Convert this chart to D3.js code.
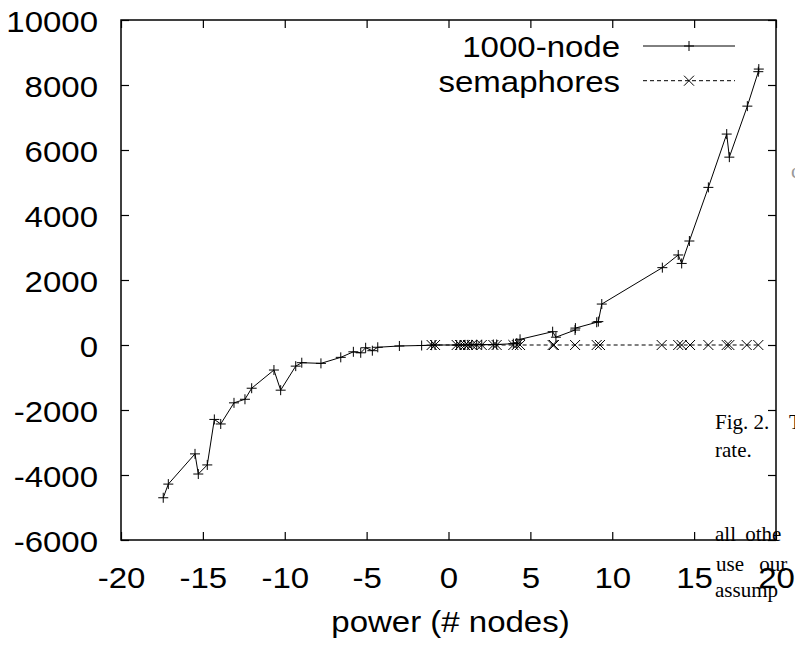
<!DOCTYPE html>
<html>
<head>
<meta charset="utf-8">
<script src="https://cdn.jsdelivr.net/npm/d3@7"></script>
<style>
  body { margin: 0; background: #fff; }
  svg { display: block; }
</style>
</head>
<body>
<svg id="chart"></svg>
<script>
// data
const nodeX = [-17.42, -17.11, -15.48, -15.28, -14.73, -14.30, -13.91, -13.10, -12.43, -12.02,
  -10.66, -10.25, -9.33, -8.96, -7.79, -6.58, -5.81, -5.36, -5.06, -4.65, -4.32, -3.0, -1.64,
  -1.03, -0.82, 0.50, 0.70, 1.01, 1.19, 1.42, 1.72, 2.03, 2.74, 2.94, 3.96, 4.17, 4.37,
  6.36, 6.56, 7.73, 7.75, 9.05, 9.15, 9.36, 13.06, 14.03, 14.24, 14.71, 15.87, 16.99, 17.15,
  18.25, 18.92, 18.95];
const nodeY = [-4700, -4280, -3350, -3970, -3690, -2290, -2430, -1780, -1670, -1330,
  -770, -1390, -650, -545, -565, -380, -210, -240, -85, -175, -70, -30, -15,
  -5, 0, 0, 0, 5, 5, 5, 10, 10, 15, 15, 40, 60, 175,
  410, 240, 460, 520, 700, 720, 1260, 2380, 2770, 2510, 3200, 4850, 6490, 5780,
  7350, 8410, 8490];

const semX = [-1.03, -0.82, 0.50, 0.70, 1.01, 1.19, 1.42, 1.72, 2.03, 2.74, 2.94, 3.96, 4.17, 4.37,
  6.36, 6.44, 7.73, 9.05, 9.25, 13.02, 14.03, 14.24, 14.75, 15.87, 16.99, 17.15, 18.21, 18.92];
const semY = semX.map(() => 0);

const xTicks = [-20, -15, -10, -5, 0, 5, 10, 15, 20];
const yTicks = [-6000, -4000, -2000, 0, 2000, 4000, 6000, 8000, 10000];

const svgWidth = 795;
const svgHeight = 648;
const margin = { top: 20, right: 19, bottom: 108, left: 121 };
const stretch = 1.1; // the original figure is a bit wider than tall
const fontSize = 30;
const font = "'Liberation Sans', Arial, Helvetica, sans-serif";

const svg = d3.select("#chart")
  .attr("width", svgWidth)
  .attr("height", svgHeight)
  .style("font-family", font);

svg.append("rect").attr("width", svgWidth).attr("height", svgHeight).attr("fill", "#fff");

const x = d3.scaleLinear().domain([-20, 20]).range([margin.left, svgWidth - margin.right]);
const y = d3.scaleLinear().domain([-6000, 10000]).range([svgHeight - margin.bottom, margin.top]);

// axes: inward ticks on all four sides
const bottom = svg.append("g")
  .attr("transform", "translate(0," + y(-6000) + ")")
  .call(d3.axisBottom(x).tickValues(xTicks).tickSize(-8).tickSizeOuter(0).tickFormat(d => String(d)));
bottom.selectAll("text")
  .attr("y", 0).attr("dy", 0)
  .attr("font-size", fontSize)
  .attr("fill", "#000")
  .attr("transform", "translate(0,48) scale(" + stretch + ",1)");

const left = svg.append("g")
  .attr("transform", "translate(" + x(-20) + ",0)")
  .call(d3.axisLeft(y).tickValues(yTicks).tickSize(-8).tickSizeOuter(0).tickFormat(d => String(d)));
left.selectAll("text")
  .attr("x", 0).attr("dy", 0)
  .attr("font-size", fontSize)
  .attr("fill", "#000")
  .attr("transform", "translate(-23,11) scale(" + stretch + ",1)");

svg.append("g")
  .attr("transform", "translate(0," + y(10000) + ")")
  .call(d3.axisTop(x).tickValues(xTicks).tickSize(-8).tickSizeOuter(0).tickFormat(""));
svg.append("g")
  .attr("transform", "translate(" + x(20) + ",0)")
  .call(d3.axisRight(y).tickValues(yTicks).tickSize(-8).tickSizeOuter(0).tickFormat(""));

svg.selectAll(".domain").remove();
svg.selectAll(".tick line").attr("stroke", "#000").attr("stroke-width", 1.2);

svg.append("rect")
  .attr("x", x(-20)).attr("y", y(10000))
  .attr("width", x(20) - x(-20)).attr("height", y(-6000) - y(10000))
  .attr("fill", "none").attr("stroke", "#000").attr("stroke-width", 1.5);

// axis title
svg.append("text")
  .attr("transform", "translate(" + (x(0) + 2) + ",632) scale(" + stretch + ",1)")
  .attr("text-anchor", "middle")
  .attr("font-size", fontSize)
  .text("power (# nodes)");

// series
const nodeData = nodeX.map((d, i) => ({ x: d, y: nodeY[i] }));
const semData = semX.map((d, i) => ({ x: d, y: semY[i] }));

const line = d3.line().x(d => x(d.x)).y(d => y(d.y));

const plus = "M-5,0H5M0,-5V5";
const cross = "M-5,-5L5,5M-5,5L5,-5";

svg.append("path")
  .datum(semData)
  .attr("fill", "none")
  .attr("stroke", "#000")
  .attr("stroke-width", 1)
  .attr("stroke-dasharray", "4,3")
  .attr("d", line);

svg.append("g").selectAll("path")
  .data(semData)
  .enter()
  .append("path")
  .attr("transform", d => "translate(" + x(d.x) + "," + y(d.y) + ")")
  .attr("d", cross)
  .attr("stroke", "#000")
  .attr("stroke-width", 1);

svg.append("path")
  .datum(nodeData)
  .attr("fill", "none")
  .attr("stroke", "#000")
  .attr("stroke-width", 1)
  .attr("d", line);

svg.append("g").selectAll("path")
  .data(nodeData)
  .enter()
  .append("path")
  .attr("transform", d => "translate(" + x(d.x) + "," + y(d.y) + ")")
  .attr("d", plus)
  .attr("stroke", "#000")
  .attr("stroke-width", 1);

// legend
const legend = [
  { name: "1000-node", marker: plus, dash: null },
  { name: "semaphores", marker: cross, dash: "4,3" }
];
const lg = svg.append("g").selectAll("g")
  .data(legend)
  .enter()
  .append("g")
  .attr("transform", (d, i) => "translate(0," + (46 + i * 34.7) + ")");
lg.append("text")
  .attr("transform", "translate(620,11) scale(" + stretch + ",1)")
  .attr("text-anchor", "end")
  .attr("font-size", fontSize)
  .text(d => d.name);
lg.append("line")
  .attr("x1", 643).attr("x2", 735)
  .attr("stroke", "#000").attr("stroke-width", 1)
  .attr("stroke-dasharray", d => d.dash);
lg.append("path")
  .attr("transform", "translate(689,0)")
  .attr("d", d => d.marker)
  .attr("stroke", "#000").attr("stroke-width", 1);

// text of the page the figure was cut from
const pageText = [
  { t: "Fig. 2.", x: 715, y: 429, ws: 0 },
  { t: "T", x: 789, y: 429, ws: 0 },
  { t: "rate.", x: 715, y: 457, ws: 0 },
  { t: "all othe", x: 715, y: 541, ws: 4 },
  { t: "use our", x: 716, y: 571, ws: 10 },
  { t: "assump", x: 715, y: 597, ws: 0 },
  { t: "c", x: 791, y: 178, ws: 0 }
];
svg.append("g").selectAll("text")
  .data(pageText)
  .enter()
  .append("text")
  .attr("x", d => d.x)
  .attr("y", d => d.y)
  .attr("font-family", "'Liberation Serif', 'Times New Roman', serif")
  .attr("font-size", 21)
  .attr("word-spacing", d => d.ws)
  .attr("fill", d => d.t === "c" ? "#999" : "#000")
  .text(d => d.t);
</script>
</body>
</html>
